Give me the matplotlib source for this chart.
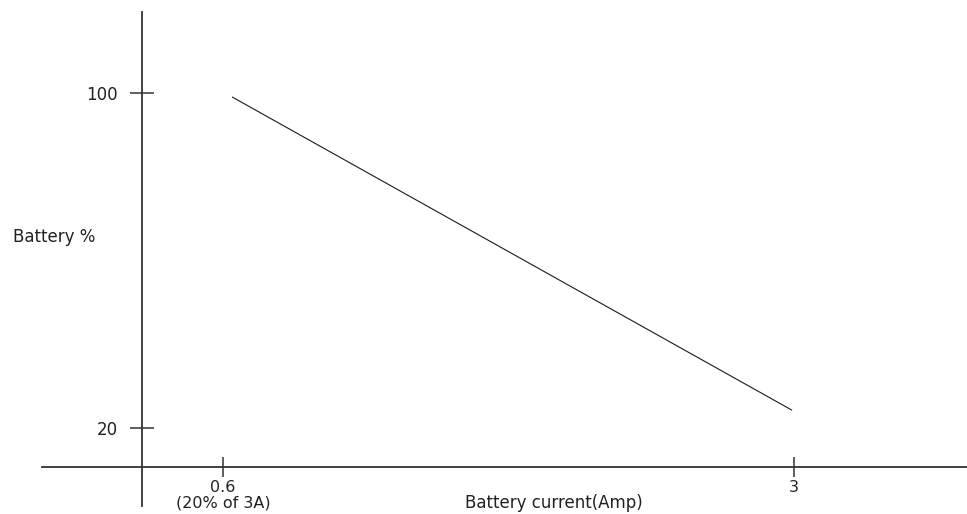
import matplotlib.pyplot as plt

plt.rcParams['font.family'] = ['DejaVu Sans']

# battery % vs battery current
current = [0.64, 2.99]
battery = [99, 24.3]

x_ticks = [0.6, 3]
x_tick_labels = ['0.6\n(20% of 3A)', '3']
y_ticks = [20, 100]
y_tick_labels = ['20', '100']

W, H = 967, 514
fig = plt.figure(figsize=(W / 100, H / 100), dpi=100)
ax = fig.add_axes([0, 0, 1, 1])

# pixel scale of the reference: 0.6 -> 223 px, 3 -> 794 px ; 100 -> 93 px, 20 -> 428 px
sx = (794 - 223) / (3 - 0.6)
sy = (428 - 93) / (100 - 20)
ax.set_xlim(0.6 - 223 / sx, 0.6 + (W - 223) / sx)
ax.set_ylim(20 - (H - 428) / sy, 100 + 93 / sy)

ax.plot(current, battery, color='#1a1a1a', lw=0.8)

for s in ['top', 'right']:
    ax.spines[s].set_visible(False)
ax.spines['left'].set_position(('data', 0.6 - 81 / sx))
ax.spines['left'].set_bounds(20 - 78 / sy, 100 + 81 / sy)
ax.spines['bottom'].set_position(('data', 20 - 39 / sy))
ax.spines['bottom'].set_bounds(0.6 - 181 / sx, 0.6 + 744 / sx)
for s in ['left', 'bottom']:
    ax.spines[s].set_linewidth(1.3)
    ax.spines[s].set_color('#333333')

fs = 12
ax.set_xticks(x_ticks, x_tick_labels)
ax.set_yticks(y_ticks, y_tick_labels)
ax.tick_params(axis='y', direction='inout', length=17, width=1.1, color='#333333',
               labelsize=fs, pad=9, labelcolor='#222222')
ax.tick_params(axis='x', direction='inout', length=14, width=1.1, color='#333333',
               labelsize=11.5, pad=2, labelcolor='#222222')
for lbl in ax.get_xticklabels():
    lbl.set_linespacing(1.05)
    lbl.set_verticalalignment('top')

fig.text(13 / W, 1 - 237 / H, 'Battery %', fontsize=fs, color='#222222',
         va='center', ha='left')
fig.text(554 / W, 1 - 503 / H, 'Battery current(Amp)', fontsize=fs, color='#222222',
         va='center', ha='center')

fig.savefig('out.png', dpi=100)
